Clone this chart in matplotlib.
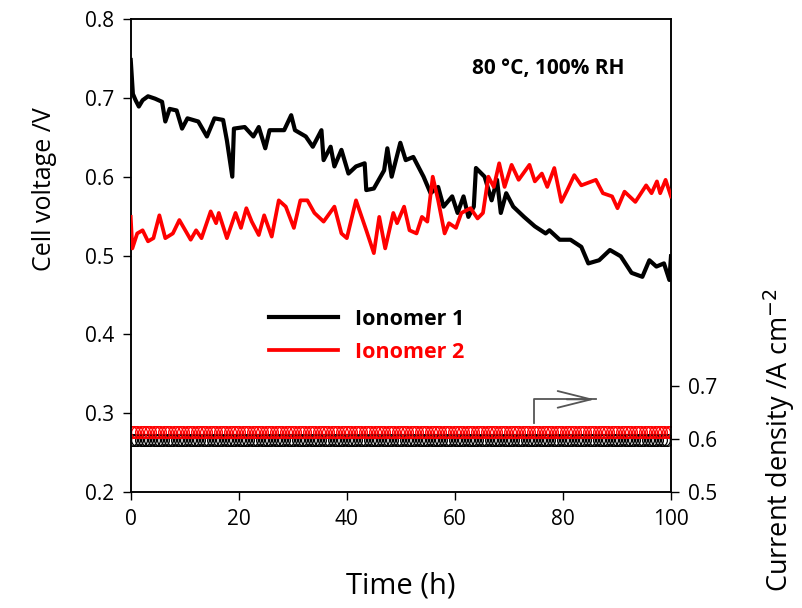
import numpy as np
import matplotlib
matplotlib.use('Agg')
import matplotlib.pyplot as plt

plt.rcParams['font.family'] = ['Open Sans', 'DejaVu Sans']

# cell voltage
t_ion1 = [0, 0.4, 0.9, 1.5, 2.2, 3.2, 4.5, 5.8, 6.4, 7.2, 8.5, 9.5, 10.5, 12.5, 14.1,
          15.5, 17.1, 17.8, 18.8, 19.1, 21.1, 22.7, 23.7, 24.9, 25.7, 28.4, 29.7, 30.4,
          32.4, 33.7, 35.3, 35.7, 37.0, 37.7, 39.0, 40.3, 41.7, 43.3, 43.6, 45.0, 46.9,
          47.5, 48.3, 49.9, 50.9, 52.3, 54.2, 55.5, 56.9, 57.9, 59.5, 60.5, 61.6, 62.5,
          63.5, 63.9, 65.5, 66.8, 67.8, 68.5, 69.5, 70.8, 72.8, 74.8, 76.8, 77.5, 79.4,
          81.4, 83.4, 84.7, 86.7, 88.7, 90.7, 92.7, 94.7, 96.0, 97.3, 98.7, 99.7, 100]
v_ion1 = [0.748, 0.705, 0.697, 0.689, 0.697, 0.702, 0.699, 0.695, 0.670, 0.686, 0.684,
          0.661, 0.674, 0.670, 0.651, 0.674, 0.672, 0.646, 0.600, 0.661, 0.663, 0.651,
          0.663, 0.636, 0.659, 0.659, 0.678, 0.659, 0.651, 0.638, 0.659, 0.621, 0.638,
          0.613, 0.634, 0.604, 0.613, 0.617, 0.583, 0.585, 0.608, 0.636, 0.600, 0.643,
          0.621, 0.625, 0.600, 0.579, 0.587, 0.562, 0.575, 0.554, 0.575, 0.549, 0.562,
          0.611, 0.600, 0.570, 0.596, 0.554, 0.579, 0.562, 0.549, 0.537, 0.528, 0.532,
          0.520, 0.520, 0.511, 0.490, 0.494, 0.507, 0.499, 0.478, 0.473, 0.494, 0.486,
          0.490, 0.469, 0.499]

t_ion2 = [0, 0.3, 1.2, 2.2, 3.2, 4.2, 5.3, 6.4, 7.8, 9.0, 11.1, 12.1, 13.1, 14.8, 15.8,
          16.3, 17.8, 19.4, 20.4, 21.4, 22.4, 23.7, 24.7, 26.1, 27.4, 28.7, 30.2, 31.4,
          32.7, 34.0, 35.7, 37.7, 39.0, 40.0, 41.7, 43.6, 45.0, 46.0, 47.1, 48.6, 49.3,
          50.6, 51.6, 52.9, 53.9, 54.9, 55.9, 56.9, 58.1, 58.9, 60.2, 61.2, 62.9, 64.2,
          65.2, 66.2, 67.2, 68.2, 69.2, 70.5, 71.8, 73.8, 74.8, 76.1, 77.1, 78.4, 79.7,
          80.8, 82.1, 83.4, 86.1, 87.4, 89.1, 90.1, 91.4, 93.4, 95.4, 96.4, 97.4, 98.0,
          99.0, 100]
v_ion2 = [0.549, 0.509, 0.528, 0.532, 0.518, 0.522, 0.551, 0.522, 0.528, 0.545, 0.520,
          0.532, 0.522, 0.556, 0.541, 0.554, 0.522, 0.554, 0.535, 0.560, 0.543, 0.526,
          0.551, 0.524, 0.570, 0.562, 0.535, 0.570, 0.570, 0.554, 0.543, 0.562, 0.528,
          0.522, 0.570, 0.532, 0.503, 0.549, 0.509, 0.554, 0.541, 0.562, 0.532, 0.528,
          0.549, 0.543, 0.600, 0.570, 0.528, 0.541, 0.535, 0.554, 0.560, 0.547, 0.554,
          0.600, 0.587, 0.617, 0.587, 0.615, 0.596, 0.615, 0.594, 0.604, 0.587, 0.611,
          0.568, 0.583, 0.602, 0.589, 0.596, 0.579, 0.575, 0.560, 0.581, 0.568, 0.589,
          0.579, 0.594, 0.579, 0.596, 0.575]

# current density was held constant during the test
t_cd1 = np.linspace(0, 99.3, 165)
cd_ion1 = np.full(len(t_cd1), 0.598)
t_cd2 = np.linspace(0, 100, 165)
cd_ion2 = np.full(len(t_cd2), 0.613)

fig = plt.figure(figsize=(8.03, 6.08), dpi=100)
ax = fig.add_axes([0.1628, 0.1908, 0.6728, 0.7779])
ax2 = ax.twinx()

ax2.plot(t_cd1, cd_ion1, 'o', mfc='none', mec='black', ms=8.5, mew=0.9)
ax2.plot(t_cd2, cd_ion2, 'o', mfc='none', mec='red', ms=8.5, mew=0.9)

ax.plot(t_ion1, v_ion1, color='black', lw=3, label='Ionomer 1', zorder=3)
ax.plot(t_ion2, v_ion2, color='red', lw=2.7, label='Ionomer 2', zorder=3)
ax.set_zorder(ax2.get_zorder() + 1)
ax.patch.set_visible(False)

ax.set_xlim(0, 100)
ax.set_ylim(0.2, 0.8)
ax.set_xticks([0, 20, 40, 60, 80, 100])
ax.set_yticks([0.2, 0.3, 0.4, 0.5, 0.6, 0.7, 0.8])
ax.set_yticklabels(['0.2', '0.3', '0.4', '0.5', '0.6', '0.7', '0.8'])
ax2.set_ylim(0.5, 1.392)
ax2.set_yticks([0.5, 0.6, 0.7])
ax2.set_yticklabels(['0.5', '0.6', '0.7'])

for a in (ax, ax2):
    a.tick_params(direction='out', length=6, width=1, labelsize=15, pad=6)
    for s in a.spines.values():
        s.set_linewidth(1.1)

ax.set_xlabel('Time (h)', fontsize=21)
ax.xaxis.set_label_coords(0.5, -0.168)
ax.set_ylabel('Cell voltage /V', fontsize=18)
ax.yaxis.set_label_coords(-0.136, 0.64)
ax2.set_ylabel('Current density /A cm$^{-2}$', fontsize=19.5)
ax2.yaxis.set_label_coords(1.168, 0.11)

ax.text(0.772, 0.896, '80 °C, 100% RH', transform=ax.transAxes, fontsize=15,
        fontweight='bold', ha='center', va='center')

# arrow pointing at the right axis
ax.plot([74.7, 74.7, 86.2], [0.2873, 0.3175, 0.3175], color='#555555', lw=1.3)
ax.annotate('', xy=(86.4, 0.3175), xytext=(80.2, 0.3175),
            arrowprops=dict(arrowstyle='->,head_length=2.4,head_width=0.6',
                        color='#555555', lw=1.3))

leg = ax.legend(loc='upper left', bbox_to_anchor=(0.22, 0.428), frameon=False,
                handlelength=3.2, handletextpad=0.8, labelspacing=0.55,
                prop={'weight': 'bold', 'size': 15.5}, labelcolor='linecolor')

fig.savefig('out.png', dpi=100)
